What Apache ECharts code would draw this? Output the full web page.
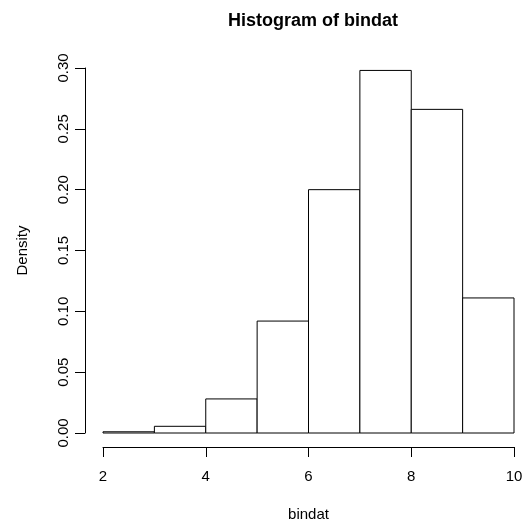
<!DOCTYPE html>
<html>
<head>
<meta charset="utf-8">
<script src="https://cdn.jsdelivr.net/npm/echarts@6/dist/echarts.min.js"></script>
<style>html,body{margin:0;padding:0;background:#fff}#c{width:526px;height:527px}</style>
</head>
<body>
<div id="c"></div>
<script>
var binStarts = [2, 3, 4, 5, 6, 7, 8, 9];
var binEnds = [3, 4, 5, 6, 7, 8, 9, 10];
var densities = [0.001, 0.0055, 0.028, 0.092, 0.200, 0.298, 0.266, 0.111];
var yTicks = [0, 0.05, 0.10, 0.15, 0.20, 0.25, 0.30];
var xTicks = [2, 4, 6, 8, 10];

var data = binStarts.map(function (s, i) { return [s, binEnds[i], densities[i]]; });
var FONT = '"Liberation Sans", Arial, Helvetica, sans-serif';

var chart = echarts.init(document.getElementById('c'), null, {renderer: 'canvas'});
chart.setOption({
  animation: false,
  backgroundColor: '#fff',
  title: {
    text: 'Histogram of bindat',
    left: 308,
    textAlign: 'center',
    top: 7,
    textStyle: {fontFamily: FONT, fontSize: 18, fontWeight: 'bold', color: '#000'}
  },
  grid: {left: 103, right: 12, top: 68, bottom: 92, containLabel: false},
  xAxis: {
    type: 'value', min: 2, max: 10, interval: 2,
    offset: 14,
    name: 'bindat', nameLocation: 'middle', nameGap: 60,
    nameTextStyle: {fontFamily: FONT, fontSize: 15, color: '#000'},
    axisLine: {show: true, onZero: false, lineStyle: {color: '#000', width: 1}},
    axisTick: {show: true, length: 10, lineStyle: {color: '#000'}},
    axisLabel: {fontFamily: FONT, fontSize: 15, color: '#000', margin: 22,
      formatter: function (v) { return xTicks.indexOf(v) >= 0 ? String(v) : ''; }},
    splitLine: {show: false}
  },
  yAxis: {
    type: 'value', min: 0, max: 0.3, interval: 0.05,
    offset: 18,
    name: 'Density', nameLocation: 'middle', nameGap: 55, nameRotate: 90,
    nameTextStyle: {fontFamily: FONT, fontSize: 15, color: '#000'},
    axisLine: {show: true, onZero: false, lineStyle: {color: '#000', width: 1}},
    axisTick: {show: true, length: 10, lineStyle: {color: '#000'}},
    axisLabel: {fontFamily: FONT, fontSize: 15, color: '#000', margin: 14, rotate: 90,
      formatter: function (v) {
        for (var i = 0; i < yTicks.length; i++) { if (Math.abs(yTicks[i] - v) < 1e-9) return yTicks[i].toFixed(2); }
        return '';
      }},
    splitLine: {show: false}
  },
  series: [{
    type: 'custom',
    data: data,
    encode: {x: [0, 1], y: 2},
    renderItem: function (params, api) {
      var p0 = api.coord([api.value(0), 0]);
      var p1 = api.coord([api.value(1), api.value(2)]);
      return {
        type: 'rect',
        shape: {x: p0[0], y: p1[1], width: p1[0] - p0[0], height: p0[1] - p1[1]},
        style: {fill: '#fff', stroke: '#000', lineWidth: 1}
      };
    }
  }]
});
</script>
</body>
</html>
